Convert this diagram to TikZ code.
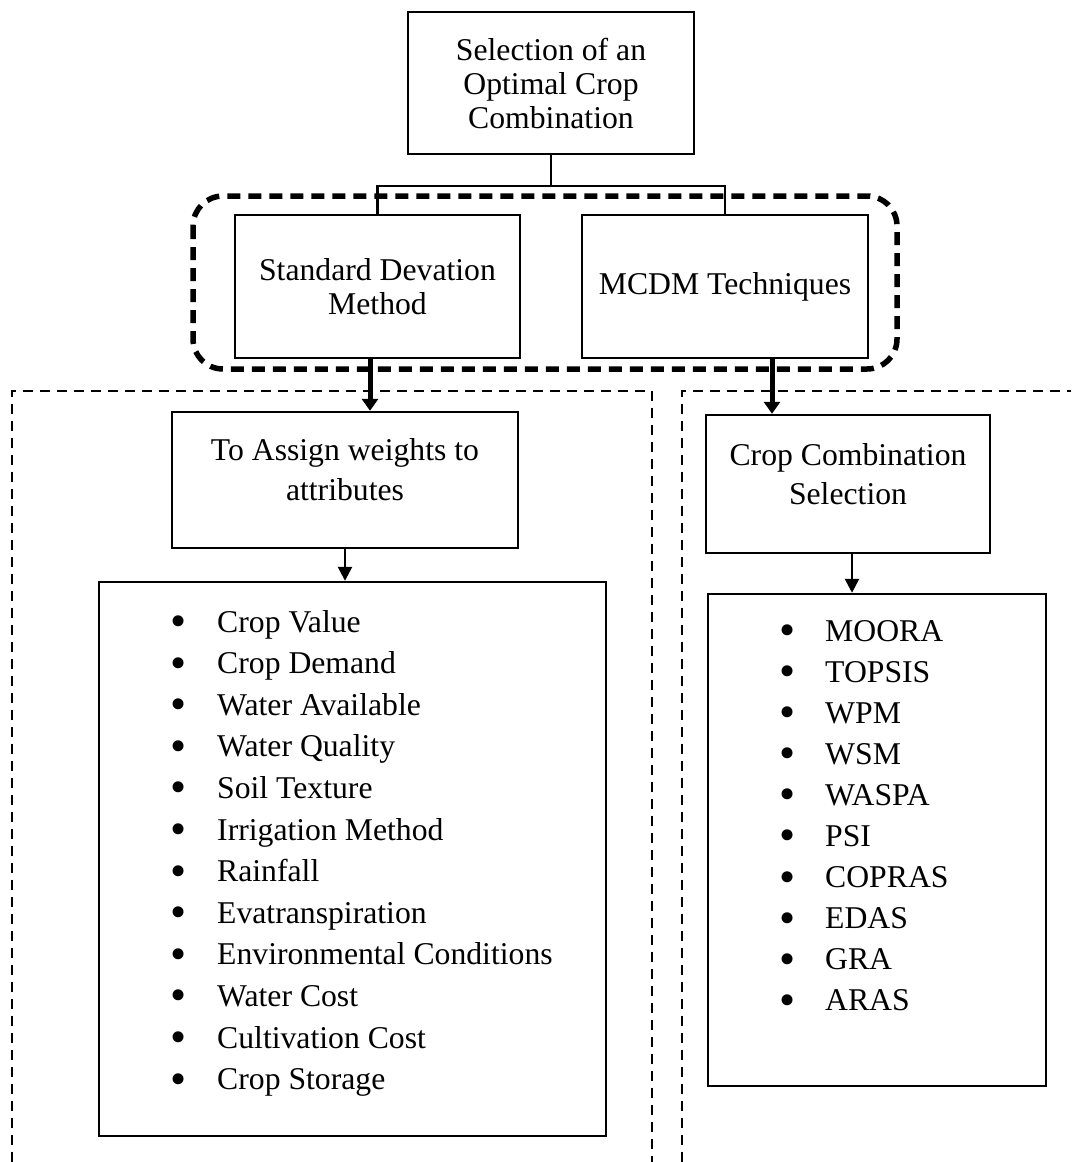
\documentclass[tikz,border=0pt]{standalone}
\usepackage{fontspec}
\setmainfont{Liberation Serif}
\usepackage{tikz}
\usetikzlibrary{arrows.meta, calc}

\newcommand{\bigbullet}{\raisebox{-0.14em}{\scalebox{1.45}{\textbullet}}}

\begin{document}
\begin{tikzpicture}[x=1pt, y=-1pt,
    box/.style={draw, line width=2.4pt, align=center, inner sep=0pt},
    conn/.style={line width=2.4pt},
    grpframe/.style={line width=5.5pt, dash pattern=on 13pt off 8pt, rounded corners=30pt},
    region/.style={line width=2pt, dash pattern=on 10pt off 7pt},
    fatarrow/.style={line width=5pt, -{Triangle[width=16pt, length=12pt]}},
    thinarrow/.style={line width=2.5pt, -{Triangle[width=14pt, length=14pt]}},
    item/.style={anchor=base west, inner sep=0pt}]
  \useasboundingbox (0,0) rectangle (1071,1162);
  \fontsize{31.7}{34}\selectfont

  \draw[region] (12,1162) -- (12,391) -- (652,391) -- (652,1162);
  \draw[region] (682,1162) -- (682,391) -- (1071,391);

  \node[box, minimum width=286pt, minimum height=142pt] (top) at (551,83)
    {Selection of an\\Optimal Crop\\Combination};
  \node[box, minimum width=285pt, minimum height=143pt] (sdm) at (377.5,286.5)
    {Standard Devation\\Method};
  \node[box, minimum width=286pt, minimum height=143pt] (mcdm) at (725,286.5)
    {MCDM Techniques};
  \draw[grpframe] (193,196) rectangle (897,369);

  \draw[conn] (top.south) -- ++(0,31) -| (sdm.north);
  \draw[conn] (top.south) -- ++(0,31) -| (mcdm.north);

  % left branch
  \node[box, minimum width=346pt, minimum height=136pt] (assign) at (345,480) {};
  \node[align=center, font=\fontsize{31.7}{40}\selectfont] (assigntxt) at ([yshift=10pt]assign.center)
    {To Assign weights to\\attributes};
  \node[box, minimum width=507pt, minimum height=554pt] (attrs) at (352.5,859) {};
  \foreach \t [count=\i] in {Crop Value, Crop Demand, Water Available, Water Quality,
      Soil Texture, Irrigation Method, Rainfall, Evatranspiration,
      Environmental Conditions, Water Cost, Cultivation Cost, Crop Storage}
    \node[item] (attr\i) at (170.5,{632+41.6*(\i-1)}) {\makebox[46.5pt][l]{\bigbullet}\t};

  % right branch
  \node[box, minimum width=284pt, minimum height=138pt] (crop) at (848,484) {};
  \node[align=center, font=\fontsize{31.7}{39}\selectfont] (croptxt) at ([yshift=9.5pt]crop.center)
    {Crop Combination\\Selection};
  \node[box, minimum width=338pt, minimum height=492pt] (meths) at (877,840) {};
  \foreach \t [count=\i] in {MOORA, TOPSIS, WPM, WSM, WASPA, PSI, COPRAS, EDAS, GRA, ARAS}
    \node[item] (meth\i) at (779.5,{641+41.1*(\i-1)}) {\makebox[45.5pt][l]{\bigbullet}\t};

  \draw[fatarrow] ([xshift=-7.5pt]sdm.south) -- ([xshift=-7.5pt]sdm.south |- assign.north);
  \draw[fatarrow] ([xshift=47pt]mcdm.south) -- ([xshift=47pt]mcdm.south |- crop.north);
  \draw[thinarrow] (assign.south) -- (assign.south |- attrs.north);
  \draw[thinarrow] ([xshift=4pt]crop.south) -- ([xshift=4pt]crop.south |- meths.north);
\end{tikzpicture}
\end{document}
